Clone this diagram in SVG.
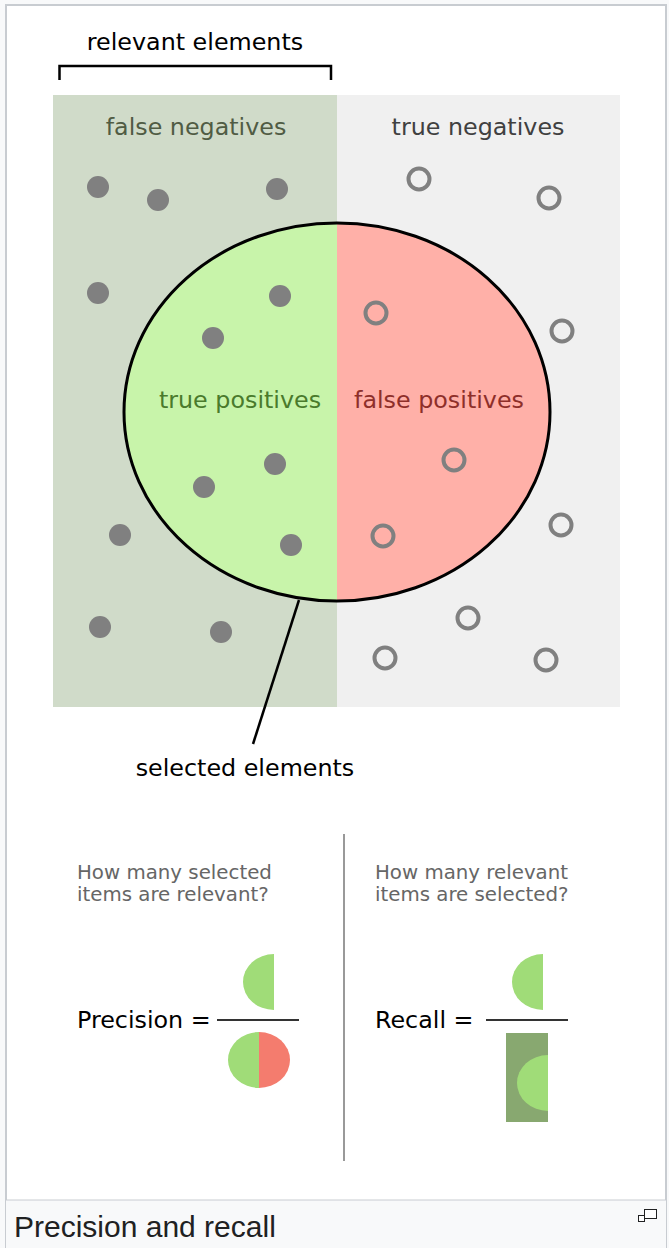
<svg xmlns="http://www.w3.org/2000/svg" width="669" height="1248" viewBox="0 0 669 1248">
<style>
.t{font-family:"DejaVu Sans",sans-serif;font-size:23.8px}
.q{font-family:"DejaVu Sans",sans-serif;font-size:19.8px;fill:#666}
.dot{fill:#808080}
.ring{fill:none;stroke:#808080;stroke-width:4}
.g{fill:#a0dc78}
</style>
<defs>
<clipPath id="leftHalf"><rect x="0" y="0" width="337" height="800"/></clipPath>
<clipPath id="rightHalf"><rect x="337" y="0" width="400" height="800"/></clipPath>
</defs>
<rect x="0" y="0" width="669" height="1248" fill="#f8f9fa"/>
<rect x="5.5" y="4.5" width="661" height="1260" fill="#f8f9fa" stroke="#c8ccd1"/>
<rect x="6.5" y="5.5" width="659" height="1194.5" fill="#ffffff" stroke="#c8ccd1"/>

<g id="background">
<rect x="53" y="95" width="284" height="612" fill="#d0dbc9"/>
<rect x="337" y="95" width="283" height="612" fill="#f0f0f0"/>
</g>

<g id="relevant">
<path d="M59.5,80 V66 H331 V80" fill="none" stroke="#000" stroke-width="2.5"/>
<text class="t" x="195" y="50" text-anchor="middle" fill="#000">relevant elements</text>
</g>

<g id="selected">
<ellipse cx="337" cy="412" rx="213" ry="189" fill="#c8f4aa" clip-path="url(#leftHalf)"/>
<ellipse cx="337" cy="412" rx="213" ry="189" fill="#ffb0a8" clip-path="url(#rightHalf)"/>
<ellipse cx="337" cy="412" rx="213" ry="189" fill="none" stroke="#000" stroke-width="3"/>
</g>

<g id="labels">
<text class="t" x="196" y="135" text-anchor="middle" fill="#505c44">false negatives</text>
<text class="t" x="478" y="135" text-anchor="middle" fill="#404040">true negatives</text>
<text class="t" x="240" y="408" text-anchor="middle" fill="#4a7a2c">true positives</text>
<text class="t" x="439" y="408" text-anchor="middle" fill="#8e2f2a">false positives</text>
</g>

<g id="relevant-items">
<circle class="dot" cx="98" cy="187" r="11"/>
<circle class="dot" cx="158" cy="200" r="11"/>
<circle class="dot" cx="277" cy="189" r="11"/>
<circle class="dot" cx="98" cy="293" r="11"/>
<circle class="dot" cx="280" cy="296" r="11"/>
<circle class="dot" cx="213" cy="338" r="11"/>
<circle class="dot" cx="275" cy="464" r="11"/>
<circle class="dot" cx="204" cy="487" r="11"/>
<circle class="dot" cx="120" cy="535" r="11"/>
<circle class="dot" cx="291" cy="545" r="11"/>
<circle class="dot" cx="100" cy="627" r="11"/>
<circle class="dot" cx="221" cy="632" r="11"/>
</g>

<g id="irrelevant-items">
<circle class="ring" cx="419" cy="179" r="10.5"/>
<circle class="ring" cx="549" cy="198" r="10.5"/>
<circle class="ring" cx="376" cy="313" r="10.5"/>
<circle class="ring" cx="562" cy="331" r="10.5"/>
<circle class="ring" cx="454" cy="460" r="10.5"/>
<circle class="ring" cx="383" cy="536" r="10.5"/>
<circle class="ring" cx="561" cy="525" r="10.5"/>
<circle class="ring" cx="468" cy="618" r="10.5"/>
<circle class="ring" cx="385" cy="658" r="10.5"/>
<circle class="ring" cx="546" cy="660" r="10.5"/>
</g>

<g id="connectors">
<line x1="299" y1="600" x2="253" y2="744" stroke="#000" stroke-width="2.5"/>
<line x1="344" y1="834" x2="344" y2="1161" stroke="#999" stroke-width="2"/>
</g>

<g id="selected-label">
<text class="t" x="245" y="776" text-anchor="middle" fill="#000">selected elements</text>
</g>

<g id="precision">
<text class="q" x="77" y="879">How many selected</text>
<text class="q" x="77" y="901">items are relevant?</text>
<text class="t" x="77" y="1028" fill="#000">Precision =</text>
<line x1="217" y1="1020" x2="299" y2="1020" stroke="#333" stroke-width="2"/>
<path class="g" d="M274,954 A31,28 0 0 0 274,1010 Z"/>
<path class="g" d="M259,1032 A31,28 0 0 0 259,1088 Z"/>
<path d="M259,1032 A31,28 0 0 1 259,1088 Z" fill="#f47c6e"/>
</g>

<g id="recall">
<text class="q" x="375" y="879">How many relevant</text>
<text class="q" x="375" y="901">items are selected?</text>
<text class="t" x="375" y="1028" fill="#000">Recall =</text>
<line x1="486" y1="1020" x2="568" y2="1020" stroke="#333" stroke-width="2"/>
<path class="g" d="M543,954 A31,28 0 0 0 543,1010 Z"/>
<rect x="506" y="1033" width="42" height="89" fill="#88a870"/>
<path class="g" d="M548,1055 A31,28 0 0 0 548,1111 Z"/>
</g>

<g id="caption">
<text x="14" y="1237" font-family="'Liberation Sans',sans-serif" font-size="30" fill="#202122">Precision and recall</text>
<rect x="644.5" y="1209.5" width="12" height="9" fill="#fff" stroke="#202122"/>
<rect x="638.5" y="1215.5" width="6" height="6" fill="#fff" stroke="#202122"/>
</g>
</svg>
